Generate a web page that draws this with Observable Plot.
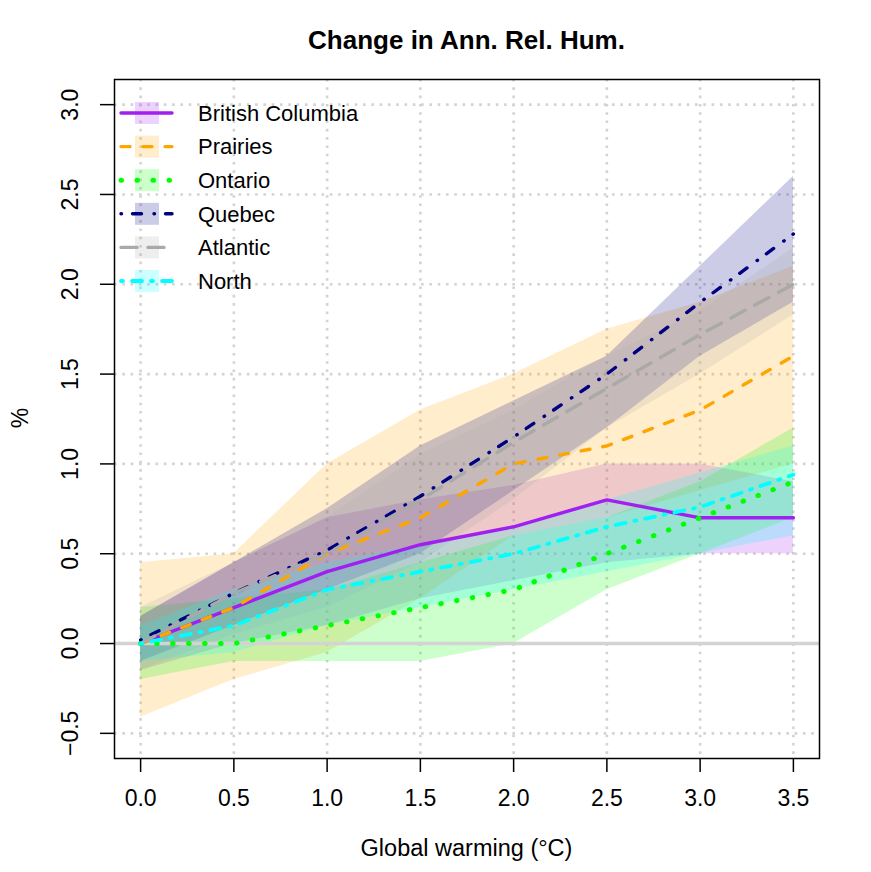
<!DOCTYPE html>
<html>
<head>
<meta charset="utf-8">
<script src="https://cdn.jsdelivr.net/npm/d3@7"></script>
<script src="https://cdn.jsdelivr.net/npm/@observablehq/plot@0.6"></script>
<style>
  html, body { margin: 0; padding: 0; background: #fff; }
  #wrap { position: relative; width: 871px; height: 872px; font-family: "Liberation Sans", Arial, sans-serif; }
  #wrap svg { display: block; }
  .title { position: absolute; left: 114px; width: 705px; top: 25px; line-height: 30px; text-align: center; font-weight: bold; font-size: 26px; color: #000; }
  .xlab { position: absolute; left: 114px; width: 705px; top: 834px; line-height: 28px; text-align: center; font-size: 23.5px; color: #000; }
  .ylab { position: absolute; left: 20px; top: 418px; font-size: 23px; transform: translate(-50%, -50%) rotate(-90deg); color: #000; }
  #legend { position: absolute; left: 100px; top: 90px; }
</style>
</head>
<body>
<div id="wrap">
  <div id="chart"></div>
  <div class="title">Change in Ann. Rel. Hum.</div>
  <div class="xlab">Global warming (°C)</div>
  <div class="ylab">%</div>
  <svg id="legend" width="320" height="215"></svg>
</div>
<script>
// ---- data ----
const warming = [0.0, 0.5, 1.0, 1.5, 2.0, 2.5, 3.0, 3.5];
const regions = ["British Columbia", "Prairies", "Ontario", "Quebec", "Atlantic", "North"];

const bcMean = [0.0, 0.2, 0.4, 0.55, 0.65, 0.8, 0.7, 0.7];
const bcLow  = [-0.15, 0.0, 0.1, 0.25, 0.35, 0.45, 0.5, 0.5];
const bcHigh = [0.15, 0.45, 0.7, 0.8, 0.88, 1.0, 1.0, 0.9];

const prMean = [0.0, 0.2, 0.5, 0.7, 1.0, 1.1, 1.3, 1.6];
const prLow  = [-0.41, -0.2, -0.05, 0.25, 0.6, 0.7, 0.85, 1.0];
const prHigh = [0.45, 0.5, 1.0, 1.3, 1.5, 1.75, 1.9, 2.1];

const onMean = [0.0, 0.0, 0.1, 0.2, 0.3, 0.5, 0.7, 0.9];
const onLow  = [-0.2, -0.1, -0.1, -0.1, 0.0, 0.3, 0.5, 0.7];
const onHigh = [0.2, 0.25, 0.3, 0.45, 0.6, 0.7, 0.9, 1.2];

const quMean = [0.02, 0.28, 0.52, 0.82, 1.15, 1.5, 1.9, 2.28];
const quLow  = [-0.1, 0.1, 0.3, 0.5, 0.85, 1.2, 1.6, 1.9];
const quHigh = [0.15, 0.45, 0.75, 1.1, 1.35, 1.6, 2.1, 2.6];

const atMean = [0.0, 0.28, 0.5, 0.8, 1.12, 1.42, 1.72, 2.0];
const atLow  = [-0.15, 0.05, 0.2, 0.45, 0.8, 1.2, 1.5, 1.83];
const atHigh = [0.2, 0.45, 0.7, 1.05, 1.3, 1.6, 1.85, 2.2];

const noMean = [0.0, 0.1, 0.3, 0.4, 0.5, 0.65, 0.76, 0.94];
const noLow  = [-0.1, -0.05, 0.1, 0.2, 0.3, 0.4, 0.5, 0.6];
const noHigh = [0.1, 0.3, 0.45, 0.55, 0.65, 0.8, 0.95, 1.1];

const xTicks = [0.0, 0.5, 1.0, 1.5, 2.0, 2.5, 3.0, 3.5];
const yTicks = [-0.5, 0.0, 0.5, 1.0, 1.5, 2.0, 2.5, 3.0];

// ---- styles ----
const colors = ["#A020F0", "#FFA500", "#00FF00", "#000080", "#A9A9A9", "#00FFFF"];
const dashes = ["none", "9,13", "0.5,15.5", "0.5,11,9,12.5", "16,11", "2,9,10,9"];
const widths = [3.4, 3.4, 5, 3.4, 3.4, 3.8];

const series = [
  [bcMean, bcLow, bcHigh], [prMean, prLow, prHigh], [onMean, onLow, onHigh],
  [quMean, quLow, quHigh], [atMean, atLow, atHigh], [noMean, noLow, noHigh]
];

const rows = [];
series.forEach(([m, lo, hi], i) => {
  warming.forEach((w, j) => rows.push({region: regions[i], idx: i, x: w, mean: m[j], lo: lo[j], hi: hi[j]}));
});

const fmt = d3.format(".1f");
const gridStyle = {stroke: "#D3D3D3", strokeOpacity: 1, strokeWidth: 2.6, strokeDasharray: "2.6,5.7"};

const marks = [
  Plot.gridX(xTicks, gridStyle),
  Plot.gridY(yTicks, gridStyle)
];
regions.forEach((r, i) => {
  marks.push(Plot.areaY(rows.filter(d => d.idx === i), {x: "x", y1: "lo", y2: "hi", fill: colors[i], fillOpacity: 0.2, curve: "linear"}));
});
marks.push(Plot.ruleY([0], {stroke: "#D3D3D3", strokeWidth: 3.5}));
regions.forEach((r, i) => {
  marks.push(Plot.line(rows.filter(d => d.idx === i), {
    x: "x", y: "mean", stroke: colors[i], strokeWidth: widths[i],
    strokeDasharray: dashes[i], strokeLinecap: "round", strokeLinejoin: "round"
  }));
});
marks.push(
  Plot.axisX(xTicks, {tickFormat: fmt, tickSize: 14, tickPadding: 17, label: null, fontSize: 23, strokeWidth: 1.5}),
  Plot.axisY(yTicks, {tickFormat: fmt, tickSize: 14, tickPadding: 23, tickRotate: -90, label: null, fontSize: 23, strokeWidth: 1.5}),
  Plot.frame({stroke: "#000", strokeWidth: 1.5})
);

const chart = Plot.plot({
  width: 871,
  height: 872,
  marginLeft: 114,
  marginRight: 52,
  marginTop: 79,
  marginBottom: 114,
  style: {fontFamily: "'Liberation Sans', Arial, sans-serif", fontSize: "23px", background: "#fff", color: "#000"},
  x: {domain: [-0.14, 3.64]},
  y: {domain: [-0.64, 3.14]},
  marks
});
document.getElementById("chart").appendChild(chart);

// ---- legend (inside plot, top-left) ----
const leg = d3.select("#legend");
const rowY0 = 23, rowStep = 33.6;
regions.forEach((r, i) => {
  const g = leg.append("g").attr("transform", `translate(0,${rowY0 + i * rowStep})`);
  g.append("rect").attr("x", 35).attr("y", -11).attr("width", 24).attr("height", 22)
    .attr("fill", colors[i]).attr("fill-opacity", 0.2);
  g.append("line").attr("x1", 21).attr("x2", 72).attr("y1", 0).attr("y2", 0)
    .attr("stroke", colors[i]).attr("stroke-width", widths[i])
    .attr("stroke-dasharray", dashes[i]).attr("stroke-linecap", "round");
  g.append("text").attr("x", 98).attr("y", 0).attr("dy", "0.35em")
    .attr("font-family", "'Liberation Sans', Arial, sans-serif").attr("font-size", 22)
    .attr("fill", "#000").text(r);
});
</script>
</body>
</html>
